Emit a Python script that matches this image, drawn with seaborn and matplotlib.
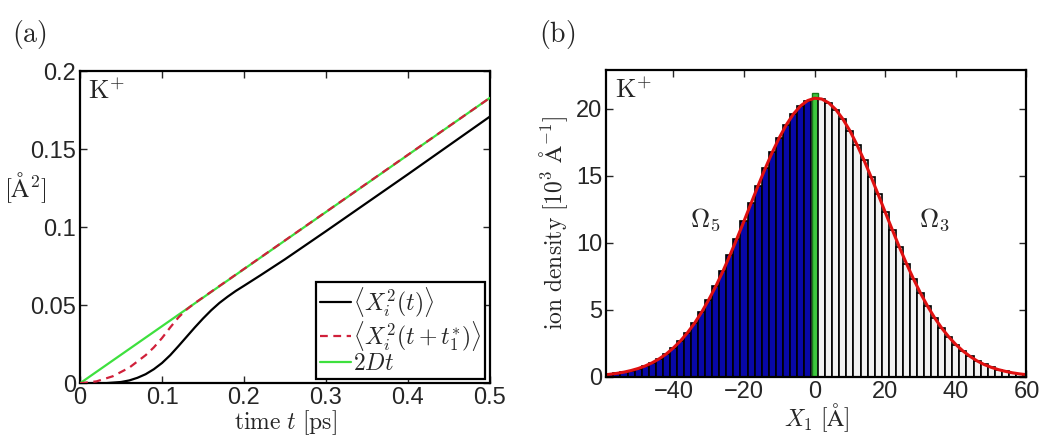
import numpy as np
import pandas as pd
import seaborn as sns
import matplotlib.pyplot as plt

# panel (a): mean square displacement curves
t_black = [0, 0.03, 0.05, 0.06, 0.07, 0.08, 0.09, 0.10, 0.11, 0.12, 0.13, 0.14, 0.15, 0.16, 0.17, 0.18,
           0.19, 0.20, 0.22, 0.25, 0.30, 0.40, 0.50]
msd_black = [0, 0.0, 0.0008, 0.0018, 0.0035, 0.0058, 0.0090, 0.0130, 0.0180, 0.0238, 0.0298, 0.0358,
             0.0415, 0.0468, 0.0515, 0.0555, 0.0592, 0.0625, 0.0692, 0.0795, 0.0975, 0.1340, 0.1710]

t_red = [0, 0.02, 0.04, 0.06, 0.08, 0.09, 0.10, 0.11, 0.12, 0.13, 0.14, 0.20, 0.30, 0.40, 0.50]
msd_red = [0, 0.0012, 0.0045, 0.010, 0.018, 0.023, 0.029, 0.0358, 0.0422, 0.0473, 0.0514, 0.0733, 0.1099,
           0.1465, 0.183]

t_green = [0, 0.5]
msd_green = [0, 0.183]

# panel (b): ion density histogram (10^3 / A), bins of 2 A
x_left = list(range(-58, 0, 2))
h_left = [0.18, 0.25, 0.34, 0.46, 0.61, 0.80, 1.04, 1.34, 1.70, 2.15, 2.67, 3.29, 4.00, 4.82, 5.74,
          6.75, 7.86, 9.06, 10.32, 11.62, 12.95, 14.27, 15.55, 16.76, 17.85, 18.82, 19.62, 20.22, 20.62]
x_mid = [0]
h_mid = [21.2]
x_right = list(range(2, 60, 2))
h_right = [20.74, 20.45, 19.95, 19.24, 18.36, 17.32, 16.16, 14.91, 13.61, 12.28, 10.97, 9.68, 8.45, 7.30,
           6.23, 5.26, 4.39, 3.63, 2.97, 2.40, 1.92, 1.52, 1.18, 0.91, 0.70, 0.53, 0.40, 0.29, 0.21]
fit_x = [-59] + x_left + [0] + x_right + [60]
fit_y = [0.15] + h_left + [20.8] + h_right + [0.15]

sns.set_style('ticks')
plt.rcParams['font.family'] = ['Liberation Sans', 'DejaVu Sans']
plt.rcParams['mathtext.fontset'] = 'cm'
plt.rcParams['axes.linewidth'] = 1.6
plt.rcParams['axes.edgecolor'] = 'black'

fig = plt.figure(figsize=(10.4, 4.38), dpi=100)
ax1 = fig.add_axes([0.077, 0.125, 0.394, 0.712])
ax2 = fig.add_axes([0.583, 0.14, 0.404, 0.70])

# ---- (a)
sns.lineplot(x=t_black, y=msd_black, color='black', lw=1.6, ax=ax1, label=r'$\langle X_i^2(t)\rangle$')
sns.lineplot(x=t_red, y=msd_red, color='#d0203a', lw=1.6, ax=ax1, linestyle=(0, (3.5, 2.5)),
             label=r'$\langle X_i^2(t+t_1^{*})\rangle$', zorder=4)
sns.lineplot(x=t_green, y=msd_green, color='#3ee03e', lw=1.6, ax=ax1, label=r'$2Dt$', zorder=3)
ax1.set_xlim(0, 0.5)
ax1.set_ylim(0, 0.2)
ax1.set_xticks([0, 0.1, 0.2, 0.3, 0.4, 0.5])
ax1.set_xticklabels(['0', '0.1', '0.2', '0.3', '0.4', '0.5'])
ax1.set_yticks([0, 0.05, 0.1, 0.15, 0.2])
ax1.set_yticklabels(['0', '0.05', '0.1', '0.15', '0.2'])
ax1.set_xlabel(r'$\mathrm{time}\ t\ [\mathrm{ps}]$', fontsize=17, labelpad=-1)
ax1.set_ylabel(r'$[\mathrm{\AA}^2]$', fontsize=18, rotation=0)
ax1.yaxis.set_label_coords(-0.135, 0.57)
ax1.text(0.02, 0.975, r'$\mathrm{K}^{+}$', transform=ax1.transAxes, fontsize=19, va='top', ha='left')
leg = ax1.legend(loc='lower right', fontsize=17, frameon=True, fancybox=False, edgecolor='black',
                 handlelength=1.3, handletextpad=0.1, labelspacing=0.0, borderpad=0.15,
                 borderaxespad=0.2)
leg.get_frame().set_linewidth(1.6)
leg.get_frame().set_alpha(1)
leg.set_zorder(10)

# ---- (b)
df_left = pd.DataFrame({'x': x_left, 'h': h_left})
df_mid = pd.DataFrame({'x': x_mid, 'h': h_mid})
df_right = pd.DataFrame({'x': x_right, 'h': h_right})
sns.histplot(data=df_left, x='x', weights='h', binwidth=2, binrange=(-59, -1), color='#0808a8', alpha=1,
             edgecolor='black', linewidth=1.2, ax=ax2)
sns.histplot(data=df_mid, x='x', weights='h', binwidth=1.7, binrange=(-0.85, 0.85), color='#3ec83e', alpha=1,
             edgecolor='#1a7a1a', linewidth=1.0, ax=ax2)
sns.histplot(data=df_right, x='x', weights='h', binwidth=2, binrange=(1, 59), color='#f2f2f2', alpha=1,
             edgecolor='black', linewidth=1.2, ax=ax2)
sns.lineplot(x=fit_x, y=fit_y, color='#e01010', lw=2.2, ax=ax2)
ax2.set_xlim(-59, 60)
ax2.set_ylim(0, 22.9)
ax2.set_xticks([-40, -20, 0, 20, 40, 60])
ax2.set_xticklabels(['\u221240', '\u221220', '0', '20', '40', '60'])
ax2.set_yticks([0, 5, 10, 15, 20])
ax2.set_xlabel(r'$X_1\ [\mathrm{\AA}]$', fontsize=17, labelpad=-1)
ax2.set_ylabel(r'$\mathrm{ion\ density}\ [10^3\ \mathrm{\AA}^{-1}]$', fontsize=17, labelpad=4)
ax2.text(0.02, 0.975, r'$\mathrm{K}^{+}$', transform=ax2.transAxes, fontsize=19, va='top', ha='left')
ax2.text(-31, 11.7, r'$\Omega_5$', fontsize=19, ha='center', va='center')
ax2.text(34, 11.7, r'$\Omega_3$', fontsize=19, ha='center', va='center')

for ax in (ax1, ax2):
    ax.tick_params(direction='in', top=True, right=True, length=5, width=1.0, labelsize=17, pad=3)
    for s in ax.spines.values():
        s.set_visible(True)
        s.set_linewidth(1.6)

fig.text(0.012, 0.905, r'$(\mathrm{a})$', fontsize=20)
fig.text(0.518, 0.905, r'$(\mathrm{b})$', fontsize=20)

fig.savefig('out.png', dpi=100)
